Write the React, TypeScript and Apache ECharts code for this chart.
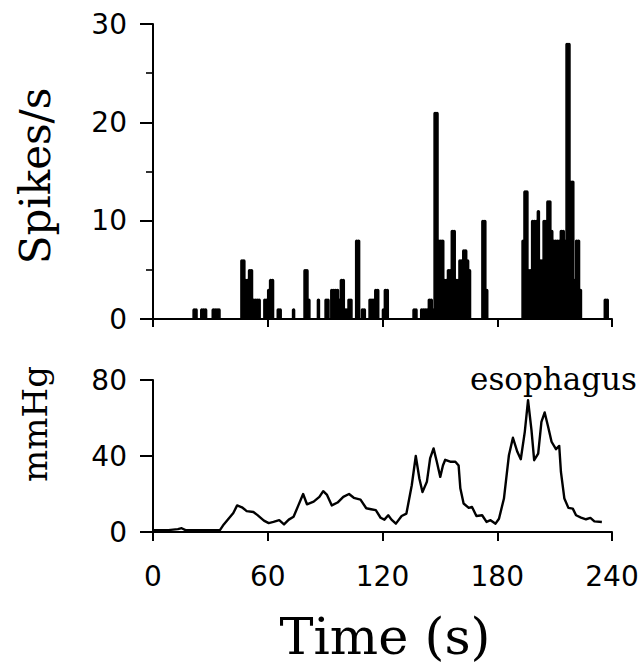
import React, { useEffect, useRef } from "react";
import * as echarts from "echarts";

// Spike rate, 1-s bins starting at t = 0 s (spikes/s)
const spikeRate: number[] = [
  0, 0, 0, 0, 0, 0, 0, 0, 0, 0, 0, 0, 0, 0, 0, 0, 0, 0, 0, 0,
  0, 1, 1, 0, 0, 1, 1, 1, 0, 0, 0, 1, 1, 1, 1, 0, 0, 0, 0, 0,
  0, 0, 0, 0, 0, 0, 6, 6, 4, 4, 5, 5, 2, 2, 2, 2, 0, 0, 2, 2,
  3, 4, 4, 0, 0, 1, 1, 0, 0, 0, 0, 0, 0, 1, 0, 0, 0, 0, 0, 5,
  5, 2, 0, 0, 0, 0, 2, 0, 0, 0, 2, 2, 0, 3, 3, 3, 3, 2, 4, 4,
  1, 1, 2, 2, 0, 0, 8, 8, 0, 1, 1, 0, 0, 2, 2, 2, 3, 3, 0, 0,
  1, 3, 3, 0, 0, 0, 0, 0, 0, 0, 0, 0, 0, 0, 0, 0, 1, 1, 0, 0,
  1, 1, 1, 1, 2, 2, 1, 21, 21, 8, 8, 8, 4, 4, 5, 5, 9, 9, 4, 4,
  6, 6, 7, 7, 6, 5, 0, 0, 0, 0, 0, 0, 10, 10, 3, 0, 0, 0, 0, 0,
  0, 0, 0, 0, 0, 0, 0, 0, 0, 0, 0, 0, 0, 8, 13, 13, 5, 5, 10, 10,
  10, 11, 6, 6, 10, 10, 12, 12, 9, 8, 8, 8, 8, 9, 9, 8, 28, 28, 14, 14,
  4, 8, 8, 3, 0, 0, 0, 0, 0, 0, 0, 0, 0, 0, 0, 0, 2, 2, 0, 0,
];

// Esophageal pressure trace (time in s, pressure in mmHg)
const pressureTime: number[] = [
  0, 8, 13, 15, 17, 25, 30, 35, 37, 42, 44, 46.5, 49, 52.5, 54.5, 58, 60.5, 63, 66, 68.5,
  71, 73.5, 76, 78.5, 80.5, 84, 87, 89, 91, 93.5, 96.5, 99.5, 102.5, 105, 108.5, 111.5,
  114, 116.5, 119, 121, 123, 124.7, 127, 130, 132.5, 135.3, 137.4, 139.3, 140.9, 143.2,
  144.9, 146.7, 148.4, 150.2, 151.6, 152.8, 155.4, 158.1, 159.8, 160.7, 162.4, 165.1,
  166.8, 169.1, 172.1, 174.4, 176.5, 179.1, 180.9, 183.5, 186.1, 188.2, 190.5, 192.3,
  194.4, 196.1, 197.9, 199.3, 201.4, 203.1, 204.8, 206.6, 208.4, 210.7, 212.4, 213.3,
  215.1, 217.2, 219.5, 221.2, 223.8, 226.4, 228.7, 230.8, 234.7,
];
const pressureValue: number[] = [
  1, 1, 1.5, 2, 1, 1, 1, 1, 4, 10, 14, 13, 11, 10.5, 9, 6, 4.7, 5.3, 6.2, 4,
  6.5, 8, 14, 20, 14.6, 16, 18.5, 21.5, 19.5, 14, 15.5, 18.5, 20, 18, 17, 12.5,
  12, 11.5, 7.5, 6.5, 8.8, 6.5, 4.4, 8.4, 9.7, 24.6, 40, 28, 21, 26.4,
  38.7, 44, 37, 29, 35, 38, 37, 37, 35, 23, 15, 12.7,
  13.2, 8.4, 8.8, 5.3, 6.2, 4.4, 7, 17.6, 40.4, 49.6, 42.2, 38.3,
  52.7, 69.4, 53.6, 37.8, 41.3, 58, 62.9, 55.4, 47.5, 43.6, 45.3, 31.6,
  17.6, 12.7, 12.3, 8.8, 7.6, 6.7, 7.4, 5.6, 5.3,
];

const timeTicks = [0, 60, 120, 180, 240];
const spikeTicks = [0, 10, 20, 30];
const pressureTicks = [0, 40, 80];

const NUM_FONT = '"DejaVu Sans", sans-serif';
const SERIF = '"DejaVu Serif", serif';

export default function App() {
  const ref = useRef<HTMLDivElement>(null);
  useEffect(() => {
    if (!ref.current) return;
    const chart = echarts.init(ref.current, null, { renderer: "svg" });
    const bins = spikeRate
      .map((v, t) => [t, v])
      .filter((d) => d[1] > 0);
    const pressure = pressureTime.map((t, i) => [t, pressureValue[i]]);
    const axisLine = { show: true, lineStyle: { color: "#000", width: 2 } };
    const tickStyle = { color: "#000", width: 2 };
    const option: any = {
      animation: false,
      backgroundColor: "#fff",
      grid: [
        { left: 153, top: 24, width: 459, height: 295 },
        { left: 153, top: 380, width: 459, height: 152 },
      ],
      xAxis: [
        {
          gridIndex: 0, type: "value", min: timeTicks[0], max: timeTicks[timeTicks.length - 1], interval: 60,
          axisLine, axisTick: { show: true, length: 8, lineStyle: tickStyle },
          axisLabel: { show: false }, splitLine: { show: false },
        },
        {
          gridIndex: 1, type: "value", min: timeTicks[0], max: timeTicks[timeTicks.length - 1], interval: 60,
          axisLine, axisTick: { show: true, length: 9, lineStyle: tickStyle },
          axisLabel: { show: true, margin: 30, color: "#000", fontFamily: NUM_FONT, fontSize: 28 },
          splitLine: { show: false },
        },
      ],
      yAxis: [
        {
          gridIndex: 0, type: "value", min: spikeTicks[0], max: spikeTicks[spikeTicks.length - 1], interval: 10,
          axisLine, axisTick: { show: true, length: 13, lineStyle: tickStyle },
          minorTick: { show: true, splitNumber: 2, length: 7, lineStyle: { color: "#000", width: 1.6 } },
          axisLabel: { margin: 26, color: "#000", fontFamily: NUM_FONT, fontSize: 28 },
          splitLine: { show: false },
        },
        {
          gridIndex: 1, type: "value", min: pressureTicks[0], max: pressureTicks[pressureTicks.length - 1], interval: 40,
          axisLine, axisTick: { show: true, length: 13, lineStyle: tickStyle },
          axisLabel: { margin: 26, color: "#000", fontFamily: NUM_FONT, fontSize: 28 },
          splitLine: { show: false },
        },
      ],
      series: [
        {
          type: "custom",
          xAxisIndex: 0,
          yAxisIndex: 0,
          data: bins,
          renderItem: (params: any, api: any) => {
            const t = api.value(0);
            const v = api.value(1);
            const p0 = api.coord([t, v]);
            const p1 = api.coord([t + 1, 0]);
            return {
              type: "rect",
              shape: { x: p0[0], y: p0[1], width: p1[0] - p0[0], height: p1[1] - p0[1], r: 1 },
              style: { fill: "#000", stroke: "#000", lineWidth: 1.6 },
            };
          },
        },
        {
          type: "line",
          xAxisIndex: 1,
          yAxisIndex: 1,
          data: pressure,
          showSymbol: false,
          symbol: "none",
          smooth: false,
          lineStyle: { color: "#000", width: 2.4, join: "round" },
        },
      ],
      graphic: [
        {
          type: "text", x: 35, y: 176, rotation: Math.PI / 2,
          style: { text: "Spikes/s", fontFamily: SERIF, fontSize: 42, fill: "#000", align: "center", verticalAlign: "middle" },
        },
        {
          type: "text", x: 35, y: 424, rotation: Math.PI / 2,
          style: { text: "mmHg", fontFamily: SERIF, fontSize: 34, fill: "#000", align: "center", verticalAlign: "middle" },
        },
        {
          type: "text", x: 385, y: 636,
          style: { text: "Time (s)", fontFamily: SERIF, fontSize: 51, fill: "#000", align: "center", verticalAlign: "middle" },
        },
        {
          type: "text", x: 637, y: 379,
          style: { text: "esophagus", fontFamily: SERIF, fontSize: 31, fill: "#000", align: "right", verticalAlign: "middle" },
        },
      ],
    };
    chart.setOption(option);
    return () => chart.dispose();
  }, []);
  return (
    <div
      ref={ref}
      style={{ position: "fixed", left: 0, top: 0, width: 643, height: 669, background: "#fff" }}
    />
  );
}
